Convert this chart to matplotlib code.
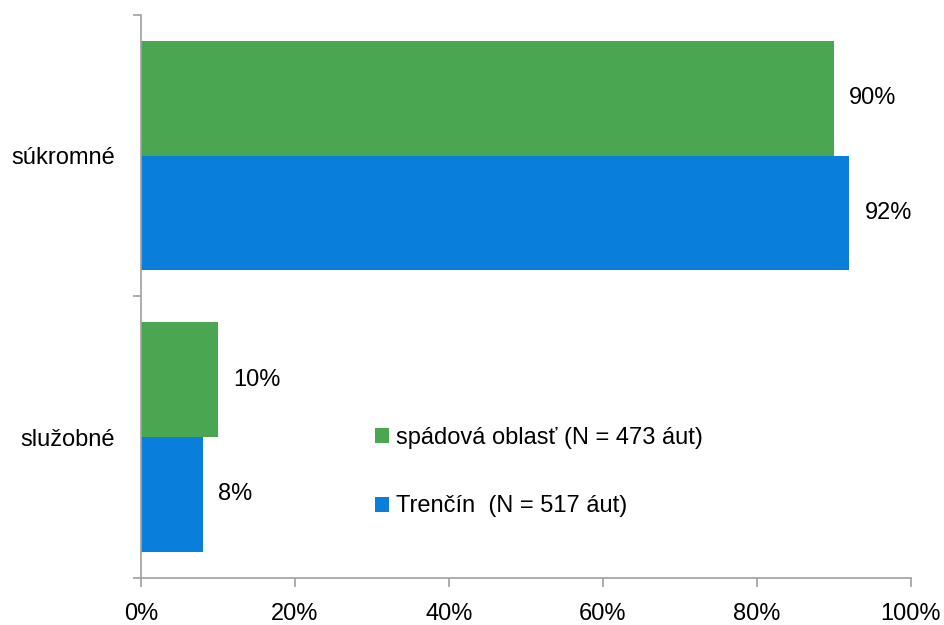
import matplotlib.pyplot as plt
from matplotlib.ticker import FixedLocator, PercentFormatter

categories = ["služobné", "súkromné"]
spadova = [10, 90]
trencin = [8, 92]
series_labels = ["spádová oblasť (N = 473 áut)", "Trenčín  (N = 517 áut)"]
x_ticks = [0, 20, 40, 60, 80, 100]

green = "#4BA651"
blue = "#0A7EDB"
gray = "#A0A0A0"
fs = 17

plt.rcParams["font.family"] = ["Liberation Sans", "DejaVu Sans"]

fig = plt.figure(figsize=(9.44, 6.25), dpi=100)
ax = fig.add_axes([0.1494, 0.0757, 0.8156, 0.9003])

h = 0.4075
ypos = list(range(len(categories)))
bars_g = ax.barh([y + h / 2 for y in ypos], spadova, height=h, color=green, label=series_labels[0])
bars_b = ax.barh([y - h / 2 for y in ypos], trencin, height=h, color=blue, label=series_labels[1])

for bars, vals in ((bars_g, spadova), (bars_b, trencin)):
    for b, v in zip(bars, vals):
        ax.annotate(f"{v}%", (b.get_width(), b.get_y() + b.get_height() / 2),
                    xytext=(11, 0), textcoords="offset points",
                    ha="left", va="center", fontsize=fs)

ax.set_xlim(0, 100)
ax.set_ylim(-0.5, len(categories) - 0.5)
ax.set_xticks(x_ticks)
ax.xaxis.set_major_formatter(PercentFormatter(decimals=0))
ax.set_yticks(ypos)
ax.set_yticklabels(categories)
ax.yaxis.set_minor_locator(FixedLocator([-0.5, 0.5, 1.5]))
ax.tick_params(axis="y", which="major", length=0, pad=19, labelsize=fs)
ax.tick_params(axis="y", which="minor", length=6, color=gray, width=1.2)
ax.tick_params(axis="x", length=6.5, color=gray, width=1.2, pad=12, labelsize=fs)

for s in ("top", "right"):
    ax.spines[s].set_visible(False)
for s in ("left", "bottom"):
    ax.spines[s].set_color(gray)
    ax.spines[s].set_linewidth(1.2)

ax.legend(loc="upper left", bbox_to_anchor=(0.276, 0.305), frameon=False,
          fontsize=fs, handlelength=0.6, handleheight=0.6, handletextpad=0.3,
          labelspacing=1.95)

fig.savefig("out.png", dpi=100)
